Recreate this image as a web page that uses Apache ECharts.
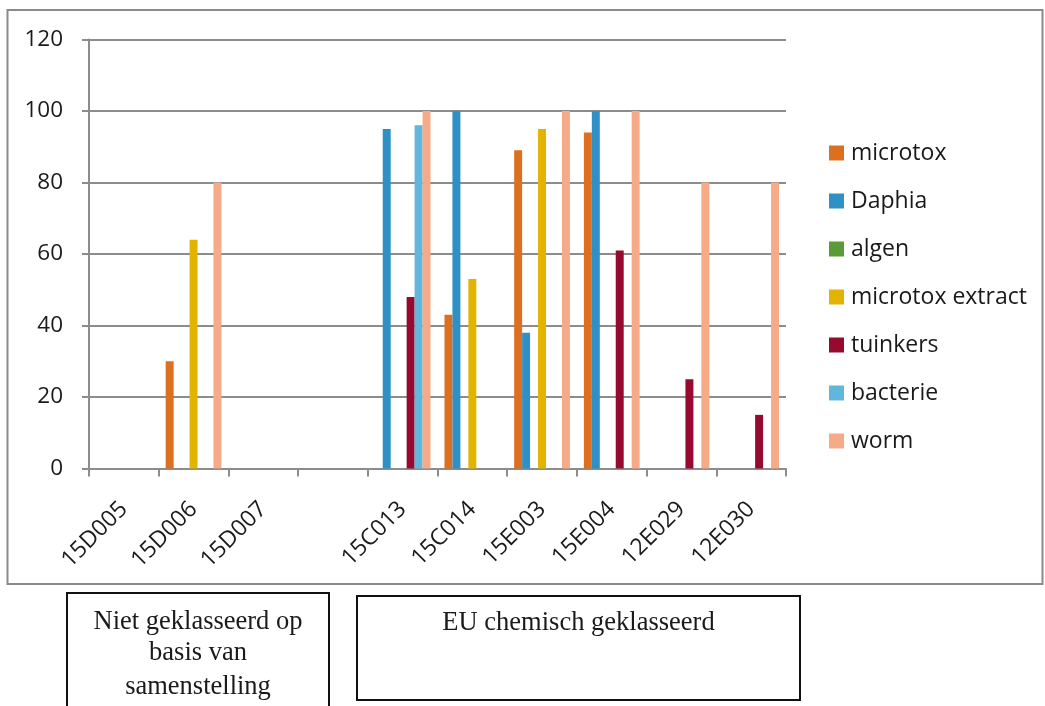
<!DOCTYPE html>
<html>
<head>
<meta charset="utf-8">
<style>
  html, body { margin: 0; padding: 0; background: #ffffff; }
  #chart { width: 1045px; height: 706px; }
</style>
<script src="https://cdn.jsdelivr.net/npm/echarts@6/dist/echarts.min.js"></script>
</head>
<body>
<div id="chart"></div>
<script>
// Samples on the category axis (the blank entry separates the two groups)
const categories = ['15D005', '15D006', '15D007', '', '15C013', '15C014', '15E003', '15E004', '12E029', '12E030'];

// Test results per organism / method
const microtox        = [null, 30, null, null, null, 43, 89, 94, null, null];
const daphia          = [null, null, null, null, 95, 100, 38, 100, null, null];
const algen           = [null, null, null, null, null, null, null, null, null, null];
const microtoxExtract = [null, 64, null, null, null, 53, 95, null, null, null];
const tuinkers        = [null, null, null, null, 48, null, null, 61, 25, 15];
const bacterie        = [null, null, null, null, 96, null, null, null, null, null];
const worm            = [null, 80, null, null, 100, null, 100, 100, 80, 80];

const seriesNames = ['microtox', 'Daphia', 'algen', 'microtox extract', 'tuinkers', 'bacterie', 'worm'];
const seriesValues = [microtox, daphia, algen, microtoxExtract, tuinkers, bacterie, worm];
const seriesColors = ['#DD7020', '#2E90C5', '#5A9A38', '#E2B400', '#960A30', '#62B6DC', '#F6AA88'];

// Group captions shown under the chart
const groupLeft = ['Niet geklasseerd op', 'basis van', 'samenstelling'];
const groupRight = 'EU chemisch geklasseerd';

const axisGray = '#8C8C8C';
const labelFont = '"Open Sans", sans-serif';
const serifFont = '"Liberation Serif", "Times New Roman", serif';

const chart = echarts.init(document.getElementById('chart'), null, { renderer: 'canvas' });

const series = seriesNames.map((name, i) => ({
  name: name,
  type: 'bar',
  data: seriesValues[i],
  barGap: '0%',
  barCategoryGap: '20%',
  itemStyle: { color: seriesColors[i] }
}));

const graphics = [
  // frame around the chart area
  { type: 'rect', silent: true, shape: { x: 7.5, y: 10, width: 1035, height: 574 },
    style: { fill: 'none', stroke: '#8A8A8A', lineWidth: 2 } },
  // left caption box
  { type: 'rect', silent: true, shape: { x: 67, y: 593, width: 262, height: 130 },
    style: { fill: 'none', stroke: '#111', lineWidth: 2 } },
  // right caption box
  { type: 'rect', silent: true, shape: { x: 357, y: 596, width: 443, height: 104 },
    style: { fill: 'none', stroke: '#111', lineWidth: 2 } }
];
const leftLineY = [622, 653, 687];
groupLeft.forEach((line, i) => {
  graphics.push({ type: 'text', silent: true, x: 198, y: leftLineY[i],
    style: { text: line, font: '26.5px ' + serifFont, fill: '#1a1a1a',
      textAlign: 'center', textVerticalAlign: 'middle' } });
});
graphics.push({ type: 'text', silent: true, x: 578.5, y: 623,
  style: { text: groupRight, font: '26.5px ' + serifFont, fill: '#1a1a1a',
    textAlign: 'center', textVerticalAlign: 'middle' } });

chart.setOption({
  animation: false,
  backgroundColor: '#ffffff',
  grid: { left: 89, right: 259, top: 39.5, bottom: 237.5, containLabel: false, outerBoundsMode: 'none' },
  legend: {
    orient: 'vertical',
    left: 824,
    top: 136,
    itemWidth: 15,
    itemHeight: 15,
    itemGap: 24,
    icon: 'rect',
    data: seriesNames,
    textStyle: { fontFamily: labelFont, fontSize: 23, color: '#1a1a1a', lineHeight: 24, padding: [0, 0, 0, 2] }
  },
  xAxis: {
    type: 'category',
    data: categories,
    boundaryGap: true,
    axisLine: { show: true, lineStyle: { color: axisGray, width: 2 } },
    axisTick: { show: true, length: 8, alignWithLabel: false, lineStyle: { color: axisGray, width: 2 } },
    axisLabel: { interval: 0, rotate: 45, margin: 37, fontFamily: labelFont, fontSize: 23, color: '#1a1a1a' },
    splitLine: { show: false }
  },
  yAxis: {
    type: 'value',
    min: 0,
    max: 120,
    interval: 20,
    axisLine: { show: true, lineStyle: { color: axisGray, width: 2 } },
    axisTick: { show: true, length: 7, lineStyle: { color: axisGray, width: 2 } },
    axisLabel: { margin: 26, fontFamily: labelFont, fontSize: 22.5, color: '#1a1a1a' },
    splitLine: { show: true, lineStyle: { color: axisGray, width: 2 } }
  },
  series: series,
  graphic: graphics
});
</script>
</body>
</html>
